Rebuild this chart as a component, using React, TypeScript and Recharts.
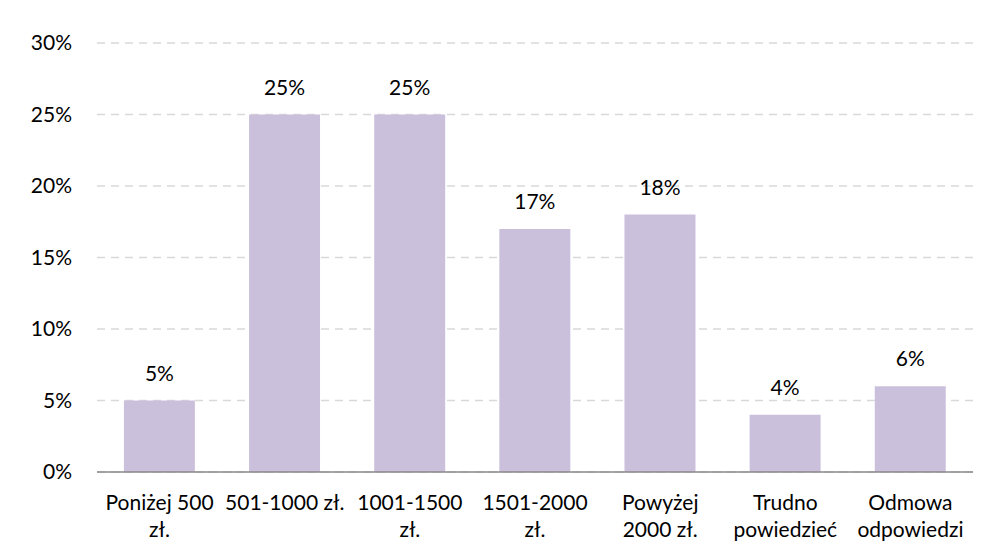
import { Bar, BarChart, CartesianGrid, LabelList, XAxis, YAxis } from 'recharts';

const categories = [
  'Poniżej 500|zł.',
  '501-1000 zł.',
  '1001-1500|zł.',
  '1501-2000|zł.',
  'Powyżej|2000 zł.',
  'Trudno|powiedzieć',
  'Odmowa|odpowiedzi',
];
const shares = [0.05, 0.25, 0.25, 0.17, 0.18, 0.04, 0.06];
const yTicks = [0, 0.05, 0.1, 0.15, 0.2, 0.25, 0.3];

const chartData = categories.map((c, i) => ({ cat: c, value: shares[i] }));

const FONT = 'Lato, "Open Sans", sans-serif';
const FS = 21;

const CatTick = (props: any) => {
  const { x, y, payload } = props;
  const lines = String(payload.value).split('|');
  return (
    <g transform={`translate(${x},${y})`}>
      {lines.map((l, i) => (
        <text
          key={i}
          x={0}
          y={i * 27}
          dy={22}
          textAnchor='middle'
          fill='#000'
          fontSize={FS}
          fontFamily={FONT}
        >
          {l}
        </text>
      ))}
    </g>
  );
};

export default function App() {
  return (
    <div style={{ position: 'absolute', left: 0, top: 0, background: '#fff' }}>
      <BarChart
        width={987}
        height={558}
        data={chartData}
        margin={{ top: 43, right: 14, bottom: 0, left: 0 }}
        barCategoryGap='21.5%'
      >
        <CartesianGrid
          vertical={false}
          stroke='#d9d9d9'
          strokeDasharray='8 6'
          strokeWidth={1.3}
        />
        <XAxis
          dataKey='cat'
          height={86}
          interval={0}
          tick={<CatTick />}
          tickLine={false}
          axisLine={{ stroke: '#898989', strokeWidth: 1.5 }}
          tickMargin={10}
        />
        <YAxis
          width={97}
          domain={[0, 0.3]}
          ticks={yTicks}
          tickFormatter={(v) => `${Math.round((v as number) * 100)}%`}
          tick={{ fill: '#000', fontSize: FS, fontFamily: FONT }}
          axisLine={false}
          tickLine={false}
          tickSize={0}
          tickMargin={25}
        />
        <Bar dataKey='value' fill='#cbc0db' isAnimationActive={false}>
          <LabelList
            dataKey='value'
            position='top'
            offset={20}
            formatter={(v: any) => `${Math.round(Number(v) * 100)}%`}
            fill='#000'
            fontSize={FS}
            fontFamily={FONT}
          />
        </Bar>
      </BarChart>
    </div>
  );
}
